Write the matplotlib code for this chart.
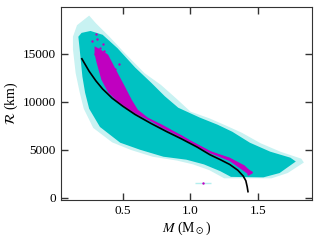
import matplotlib
matplotlib.use('Agg')
import matplotlib.pyplot as plt

plt.rcParams['font.family'] = ['Liberation Serif', 'DejaVu Serif']
plt.rcParams['mathtext.fontset'] = 'stix'

# облако (плотная часть): верхняя граница слева направо, затем нижняя справа налево
cloud_x = [0.17, 0.194, 0.26, 0.35, 0.46, 0.59, 0.71, 0.81, 0.91, 1.07, 1.20, 1.31, 1.44, 1.59, 1.74, 1.78,
           1.66, 1.54, 1.30, 1.22, 1.10, 0.97, 0.80, 0.626, 0.48, 0.33, 0.25, 0.22, 0.20, 0.18]
cloud_y = [16800, 17200, 17400, 17000, 15600, 13600, 12000, 10600, 9400, 8370, 7640, 6900, 5760, 4830, 4200, 3800,
           2600, 2150, 2200, 2800, 3500, 3990, 4300, 5030, 5760, 7400, 9300, 10970, 12640, 15450]

# светлая кайма (горизонтальные ошибки)
halo_x = [0.13, 0.16, 0.25, 0.30, 0.40, 0.52, 0.66, 0.78, 0.90, 1.00, 1.14, 1.27, 1.38, 1.52, 1.67, 1.82, 1.84,
          1.72, 1.60, 1.25, 1.14, 1.02, 0.90, 0.72, 0.56, 0.42, 0.28, 0.21, 0.18, 0.15, 0.13]
halo_y = [16800, 18000, 19000, 18200, 16800, 15000, 13000, 11800, 10300, 9000, 8300, 7500, 6800, 5700, 4800, 4100, 3700,
          2600, 2050, 2050, 2900, 3500, 3900, 4300, 5000, 5800, 7300, 9300, 11000, 13000, 15500]

# магента: полоса (верх слева направо, затем низ обратно)
mag_x = [0.29, 0.33, 0.39, 0.46, 0.515, 0.565, 0.61, 0.685, 0.79, 0.935, 1.00, 1.15, 1.29, 1.40, 1.455, 1.43,
         1.40, 1.29, 1.15, 1.00, 0.935, 0.79, 0.71, 0.59, 0.54, 0.46, 0.39, 0.34, 0.305, 0.29]
mag_y = [15800, 15500, 14930, 13050, 11600, 10240, 9200, 8370, 7640, 6500, 5950, 4850, 4200, 3400, 2650, 2450,
         2750, 3850, 4650, 5800, 6300, 7300, 7950, 8800, 9250, 10050, 11000, 12330, 14100, 15000]
mag_line_x = [0.79, 0.935, 1.00, 1.15, 1.29, 1.40, 1.455, 1.43]
mag_line_y = [7450, 6400, 5870, 4750, 4050, 3100, 2650, 2450]
mag_dots_x = [0.27, 0.30, 0.33, 0.35, 0.38, 0.29, 0.36, 0.41, 0.31, 0.44, 0.47, 1.09]
mag_dots_y = [16400, 17100, 15600, 16000, 14700, 15000, 15300, 13800, 16600, 13400, 14000, 1600]

# чёрная кривая
line_x = [0.196, 0.25, 0.30, 0.35, 0.42, 0.50, 0.59, 0.71, 0.826, 0.935, 1.05, 1.144, 1.22, 1.29, 1.35, 1.39, 1.41, 1.42, 1.426]
line_y = [14500, 13200, 12200, 11350, 10400, 9550, 8700, 7750, 6900, 6150, 5300, 4510, 4000, 3500, 2900, 2300, 1800, 1180, 660]

fig = plt.figure(figsize=(3.2, 2.4), dpi=100)
ax = fig.add_axes([0.19, 0.167, 0.785, 0.804])

ax.fill(halo_x, halo_y, color='#c8f2f2', lw=0, zorder=1)
ax.fill(cloud_x, cloud_y, color='#00c2c2', lw=0, zorder=2)
ax.errorbar([1.09], [1600], xerr=[0.06], fmt='none', ecolor='#b4eeee', lw=1, zorder=2)
ax.fill(mag_x, mag_y, color='#c000c0', lw=0, zorder=3)
ax.plot(mag_line_x, mag_line_y, color='#c000c0', lw=1.5, zorder=3)
ax.scatter(mag_dots_x, mag_dots_y, s=3, color='#c000c0', lw=0, zorder=3)
ax.plot(line_x, line_y, color='black', lw=1.2, zorder=4)

ax.set_xlim(0.04, 1.9)
ax.set_ylim(-200, 19900)
ax.set_xticks([0.5, 1.0, 1.5])
ax.set_xticklabels(['0.5', '1.0', '1.5'])
ax.set_yticks([0, 5000, 10000, 15000])
ax.tick_params(direction='in', length=5, width=1, top=True, right=True, labelsize=9.5, color='#333333')
for s in ax.spines.values():
    s.set_color('#333333')
ax.set_xlabel(r'$M$ (M$_\odot$)', fontsize=10, labelpad=2)
ax.set_ylabel(r'$\mathcal{R}$ (km)', fontsize=10, labelpad=2)

fig.savefig('out.png', dpi=100)
